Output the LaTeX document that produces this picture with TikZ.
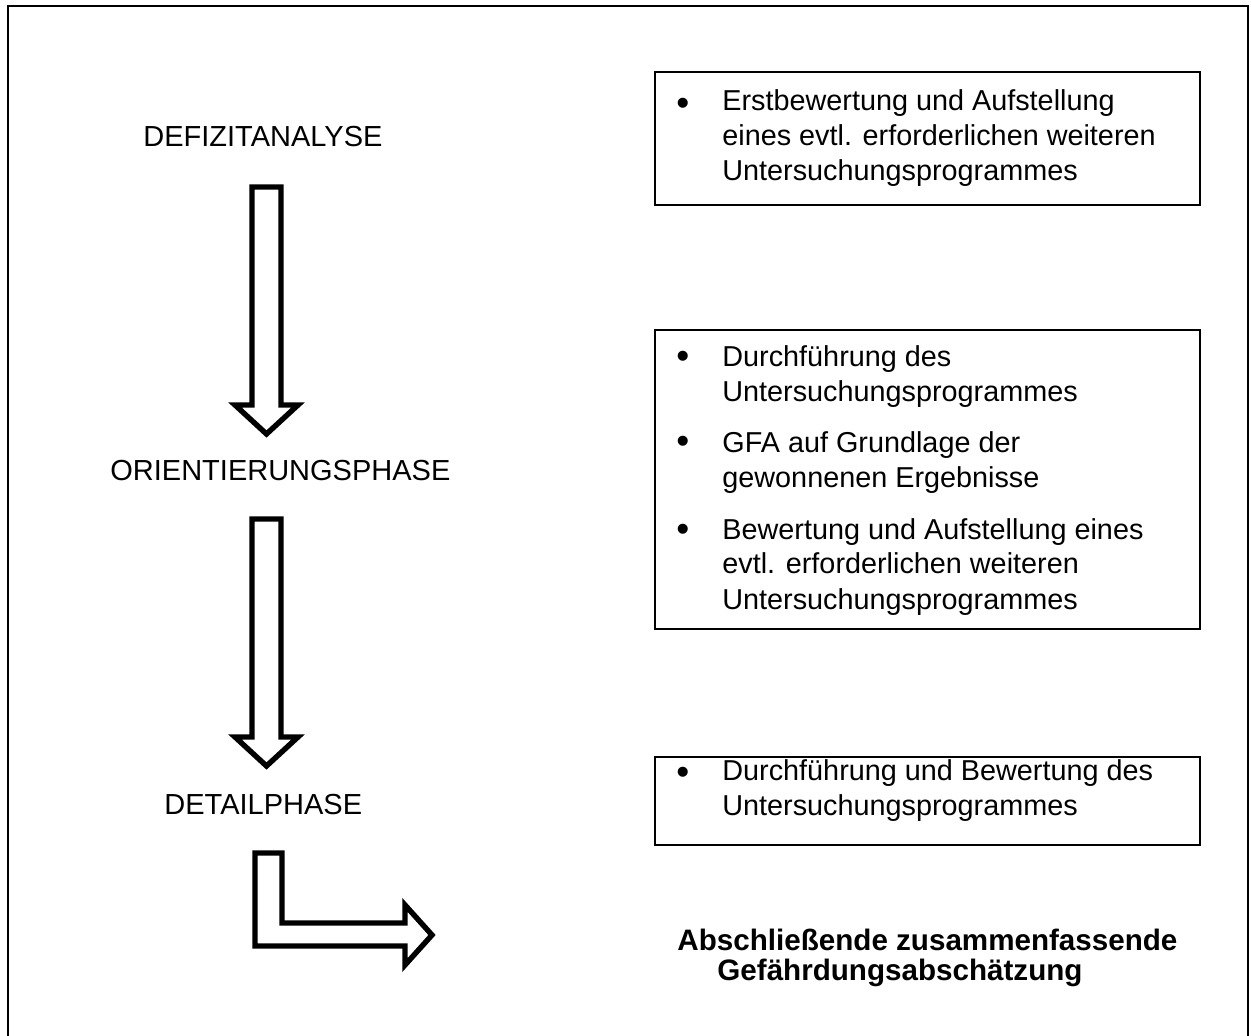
\documentclass[tikz,border=0pt]{standalone}
\usepackage{fontspec}
\setmainfont{Liberation Sans}

\begin{document}
\begin{tikzpicture}[x=0.5pt, y=-0.5pt, line join=miter,
		phase/.style={anchor=base west, inner sep=0pt, font=\fontsize{14.5}{17.5}\selectfont},
		punkt/.style={anchor=base west, inner sep=0pt, align=left, font=\fontsize{14.4}{17.5}\selectfont},
		kasten/.style={draw, line width=1.2pt},
		pfeil/.style={draw, line width=2.7pt, fill=white}]
		\useasboundingbox (0,0) rectangle (1251,1036);
		\draw[line width=1pt] (8,6) rectangle (1248,1045);
		% Phasen links
		\node[phase] (defizit) at (143,147) {DEFIZITANALYSE};
		\node[phase] (orient) at (110,481) {ORIENTIERUNGSPHASE};
		\node[phase] (detail) at (164,814) {DETAILPHASE};
		\foreach \oben in {187,519}
			{
				\draw[pfeil] (252,\oben) -- ++(29,0) -- ++(0,218) -- ++(17,0)
				-- (266.5,{\oben+247}) -- (235,{\oben+218}) -- ++(17,0) -- cycle;
			}
		\draw[pfeil] (255,853) -- (282,853) -- (282,923) -- (405,923) -- (405,905)
			-- (432,935) -- (405,965) -- (405,946) -- (255,946) -- cycle;
		% Kaesten rechts
		\draw[kasten] (655,72) rectangle (1200,205);
		\draw[kasten] (655,330) rectangle (1200,629);
		\draw[kasten] (655,757) rectangle (1200,845);
		\foreach \y/\n in {113/p1,366/p2,451/p3,539/p4,781/p5}
			{
				\node[punkt, font=\fontsize{18.5}{18.5}\selectfont] (\n) at (676,\y+3) {\textbullet};
			}
		% base = letzte Zeile
		\node[punkt] (t1) at (722,181) {Erstbewertung und Aufstellung\\eines evtl. erforderlichen weiteren\\Untersuchungsprogrammes};
		\node[punkt] (t2) at (722,402) {Durchführung des\\Untersuchungsprogrammes};
		\node[punkt] (t3) at (722,488) {GFA auf Grundlage der\\gewonnenen Ergebnisse};
		\node[punkt] (t4) at (722,609) {Bewertung und Aufstellung eines\\evtl. erforderlichen weiteren\\Untersuchungsprogrammes};
		\node[punkt] (t5) at (722,815) {Durchführung und Bewertung des\\Untersuchungsprogrammes};
		% Ergebnis
		\node[punkt, font=\fontsize{14.8}{15}\bfseries] (ergebnis) at (677,980)
			{Abschließende zusammenfassende\\\hspace*{20pt}Gefährdungsabschätzung};
	\end{tikzpicture}
\end{document}
